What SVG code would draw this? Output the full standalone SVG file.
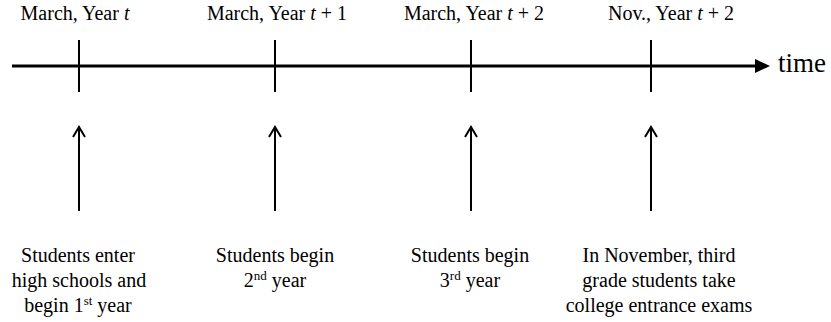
<svg xmlns="http://www.w3.org/2000/svg" width="831" height="322" viewBox="0 0 831 322">
<style>
.t{font-family:'Liberation Serif','Times New Roman',serif;font-size:20px;fill:#000}
.c{text-anchor:middle}
.ax{stroke:#000;stroke-width:3;fill:none}
.tk{stroke:#000;stroke-width:2;fill:none}
.ar{stroke:#000;stroke-width:2;fill:none}
.hd{stroke:#000;stroke-width:2;fill:none;stroke-linejoin:miter}
</style>
<rect width="831" height="322" fill="#fff"/>
<g id="connectors">
<line class="ax" x1="12" y1="66" x2="757" y2="66"/>
<polygon points="755,59 770,66 755,73" fill="#000"/>
<line class="tk" x1="79" y1="40" x2="79" y2="92"/>
<line class="tk" x1="275" y1="40" x2="275" y2="92"/>
<line class="tk" x1="471" y1="40" x2="471" y2="92"/>
<line class="tk" x1="651" y1="40" x2="651" y2="92"/>
<line class="ar" x1="79" y1="211" x2="79" y2="127"/>
<polyline class="hd" points="73,137 79,127 85,137"/>
<line class="ar" x1="275" y1="211" x2="275" y2="127"/>
<polyline class="hd" points="269,137 275,127 281,137"/>
<line class="ar" x1="471" y1="211" x2="471" y2="127"/>
<polyline class="hd" points="465,137 471,127 477,137"/>
<line class="ar" x1="651" y1="211" x2="651" y2="127"/>
<polyline class="hd" points="645,137 651,127 657,137"/>
</g>
<g font-family="'Liberation Serif', 'Times New Roman', serif" font-size="20" fill="#000">
<g id="axis-label"><text class="t" x="778" y="72" font-family="'Liberation Serif', serif" style="font-size:27px">time</text></g>
<g id="node1">
<text class="t c" x="75" y="20" font-family="'Liberation Serif', serif">March, Year <tspan font-style="italic">t</tspan></text>
<text class="t c" x="78" y="262" font-family="'Liberation Serif', serif">Students enter</text>
<text class="t c" x="79" y="287" font-family="'Liberation Serif', serif">high schools and</text>
<text class="t c" x="78" y="312" font-family="'Liberation Serif', serif">begin 1<tspan font-size="13" dy="-7">st</tspan><tspan dy="7">  year</tspan></text>
</g>
<g id="node2">
<text class="t c" x="277" y="20" font-family="'Liberation Serif', serif">March, Year <tspan font-style="italic">t</tspan> + 1</text>
<text class="t c" x="275" y="262" font-family="'Liberation Serif', serif">Students begin</text>
<text class="t c" x="275" y="287" font-family="'Liberation Serif', serif">2<tspan font-size="13" dy="-7">nd</tspan><tspan dy="7">  year</tspan></text>
</g>
<g id="node3">
<text class="t c" x="474" y="20" font-family="'Liberation Serif', serif">March, Year <tspan font-style="italic">t</tspan> + 2</text>
<text class="t c" x="470" y="262" font-family="'Liberation Serif', serif">Students begin</text>
<text class="t c" x="470" y="287" font-family="'Liberation Serif', serif">3<tspan font-size="13" dy="-7">rd</tspan><tspan dy="7">  year</tspan></text>
</g>
<g id="node4">
<text class="t c" x="671" y="20" font-family="'Liberation Serif', serif">Nov., Year <tspan font-style="italic">t</tspan> + 2</text>
<text class="t c" x="659" y="262" font-family="'Liberation Serif', serif">In November, third</text>
<text class="t c" x="659" y="287" font-family="'Liberation Serif', serif">grade students take</text>
<text class="t c" x="659" y="312" font-family="'Liberation Serif', serif">college entrance exams</text>
</g>
</g>
</svg>
